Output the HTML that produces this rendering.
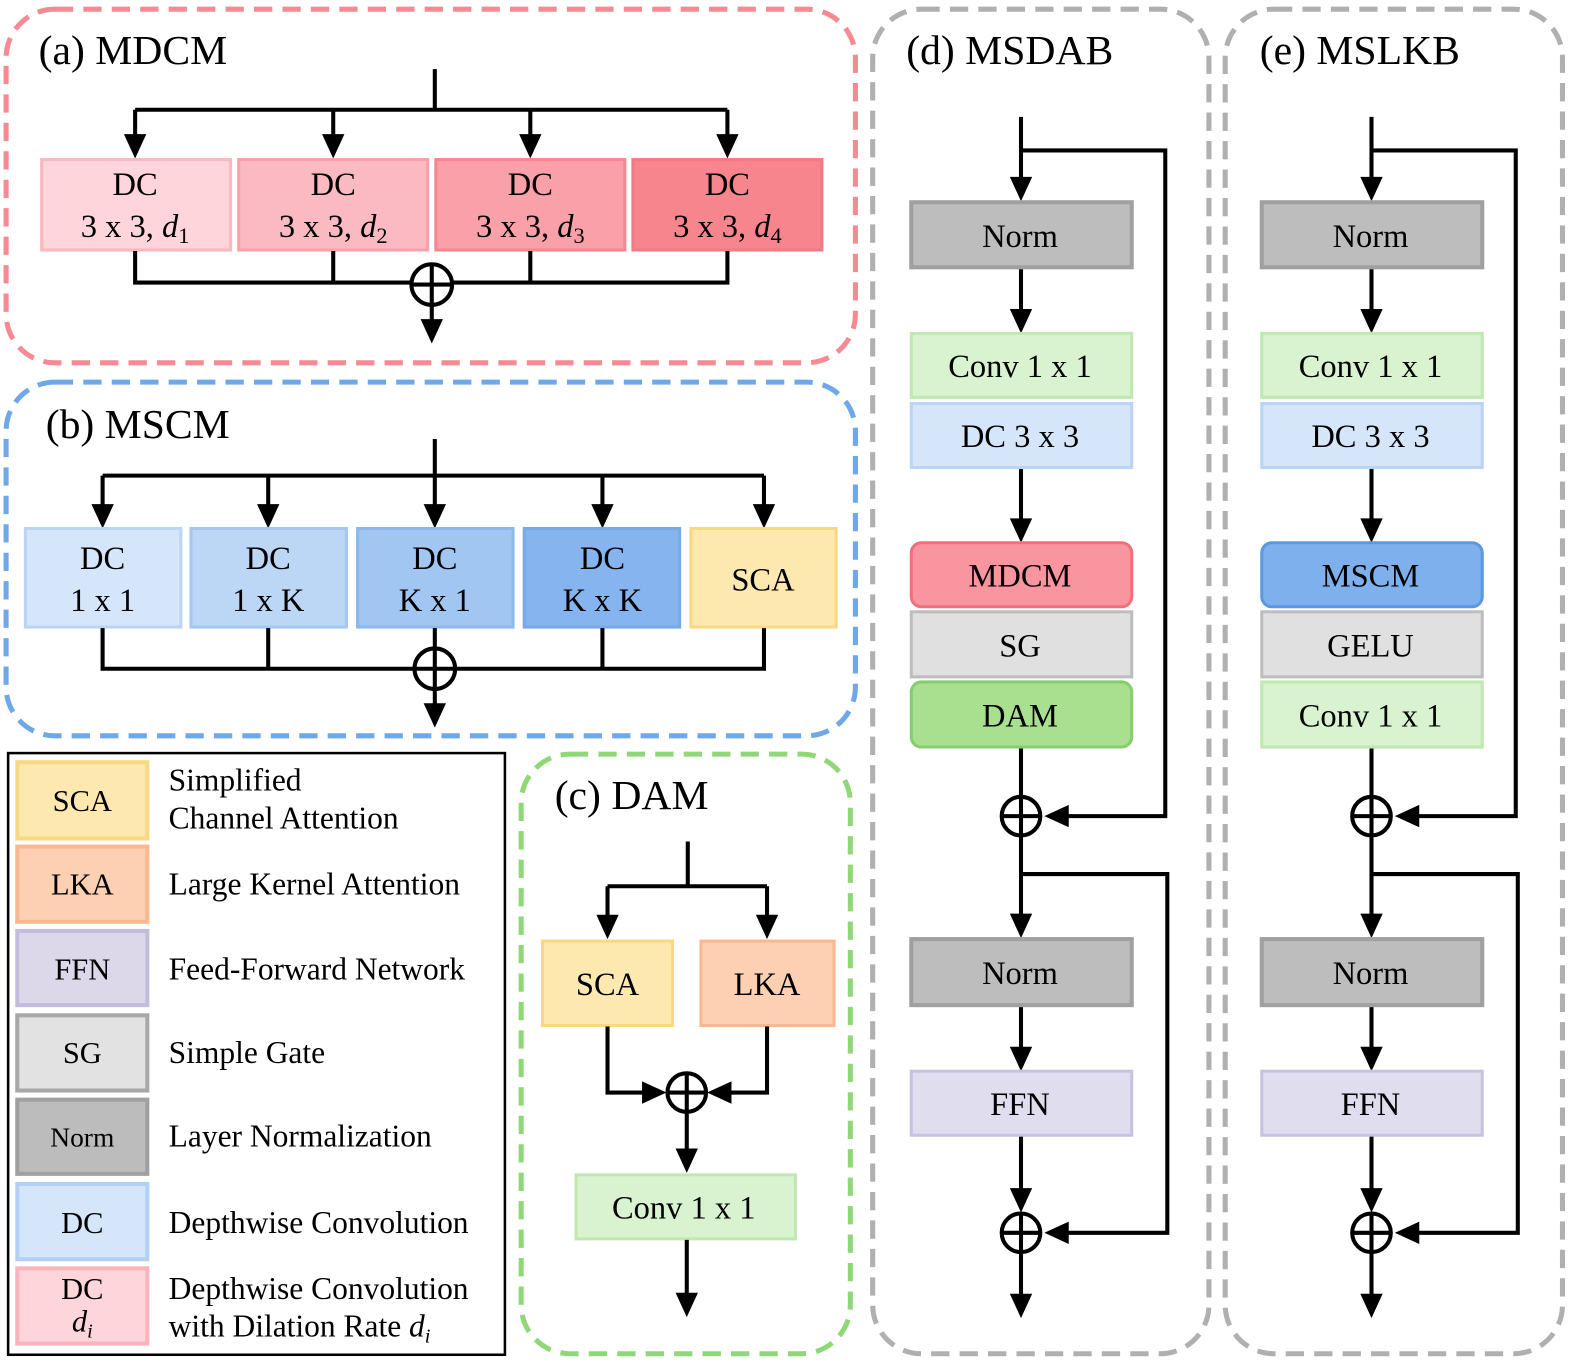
<!DOCTYPE html>
<html><head><meta charset="utf-8"><style>
html,body{margin:0;padding:0;background:#fff;}
svg{display:block;}
text{font-family:"Liberation Serif",serif;fill:#000;}
</style></head><body>
<svg width="1595" height="1370" viewBox="0 0 1570 1348" preserveAspectRatio="none" xmlns="http://www.w3.org/2000/svg">
<style>
.ln{stroke:#000;stroke-width:4;fill:none;}
.ah{fill:#000;}
.t{font-size:32px;text-anchor:middle;}
.tt{font-size:41px;}
.lg{font-size:31px;}
</style>

<!-- Containers -->
<rect x="6" y="9" width="836" height="348" rx="48" fill="none" stroke="#f58a92" stroke-width="5" stroke-dasharray="18 10"/>
<rect x="6" y="376" width="836" height="348" rx="48" fill="none" stroke="#6fa8e8" stroke-width="5" stroke-dasharray="18 10"/>
<rect x="513" y="742" width="324" height="590" rx="48" fill="none" stroke="#8fd878" stroke-width="5" stroke-dasharray="18 10"/>
<rect x="859" y="9" width="331" height="1323" rx="48" fill="none" stroke="#b0b0b0" stroke-width="5" stroke-dasharray="18 10"/>
<rect x="1206" y="9" width="332" height="1323" rx="48" fill="none" stroke="#b0b0b0" stroke-width="5" stroke-dasharray="18 10"/>
<rect x="8" y="741" width="489" height="592" fill="none" stroke="#000" stroke-width="2.5"/>

<!-- (a) MDCM -->
<text class="tt" x="38" y="63">(a) MDCM</text>
<path class="ln" d="M428 68V108M133 108H716M133 108V135M328 108V135M522 108V135M716 108V135"/>
<g class="ah"><path d="M122 132h22l-11 24z"/><path d="M317 132h22l-11 24z"/><path d="M511 132h22l-11 24z"/><path d="M705 132h22l-11 24z"/></g>
<rect x="41" y="157" width="186" height="89" fill="#fdd5da" stroke="#f9b8c0" stroke-width="3"/>
<rect x="235" y="157" width="186" height="89" fill="#fbbac2" stroke="#f8a0aa" stroke-width="3"/>
<rect x="429" y="157" width="186" height="89" fill="#f9a0a8" stroke="#f6868f" stroke-width="3"/>
<rect x="623" y="157" width="186" height="89" fill="#f7858e" stroke="#f37a84" stroke-width="3"/>
<g class="t">
<text x="133" y="192">DC</text><text x="133" y="233">3 x 3, <tspan font-style="italic">d</tspan><tspan font-size="22" dy="6">1</tspan></text>
<text x="328" y="192">DC</text><text x="328" y="233">3 x 3, <tspan font-style="italic">d</tspan><tspan font-size="22" dy="6">2</tspan></text>
<text x="522" y="192">DC</text><text x="522" y="233">3 x 3, <tspan font-style="italic">d</tspan><tspan font-size="22" dy="6">3</tspan></text>
<text x="716" y="192">DC</text><text x="716" y="233">3 x 3, <tspan font-style="italic">d</tspan><tspan font-size="22" dy="6">4</tspan></text>
</g>
<path class="ln" d="M133 247V278H716V247M328 247V278M522 247V278M425 300V318"/>
<circle cx="425" cy="280" r="20" fill="#fff" stroke="#000" stroke-width="4"/>
<path class="ln" d="M425 260V300M405 280H445"/>
<path class="ah" d="M414 314h22l-11 24z"/>

<!-- (b) MSCM -->
<text class="tt" x="45" y="431">(b) MSCM</text>
<path class="ln" d="M428 432V468M101 468H752M101 468V498M264 468V498M428 468V498M593 468V498M752 468V498"/>
<g class="ah"><path d="M90 496h22l-11 24z"/><path d="M253 496h22l-11 24z"/><path d="M417 496h22l-11 24z"/><path d="M582 496h22l-11 24z"/><path d="M741 496h22l-11 24z"/></g>
<rect x="25" y="520" width="153" height="97" fill="#d6e6fa" stroke="#b9d4f5" stroke-width="3"/>
<rect x="188" y="520" width="153" height="97" fill="#bcd6f6" stroke="#a4c6f2" stroke-width="3"/>
<rect x="352" y="520" width="153" height="97" fill="#a2c6f2" stroke="#8cb8ee" stroke-width="3"/>
<rect x="516" y="520" width="153" height="97" fill="#85b4ef" stroke="#78aaea" stroke-width="3"/>
<rect x="680" y="520" width="143" height="97" fill="#fde8b0" stroke="#f8d880" stroke-width="3"/>
<g class="t">
<text x="101" y="560">DC</text><text x="101" y="601">1 x 1</text>
<text x="264" y="560">DC</text><text x="264" y="601">1 x K</text>
<text x="428" y="560">DC</text><text x="428" y="601">K x 1</text>
<text x="593" y="560">DC</text><text x="593" y="601">K x K</text>
<text x="751" y="581">SCA</text>
</g>
<path class="ln" d="M101 618V658H752V618M264 618V658M593 618V658M428 618V640M428 678V696"/>
<circle cx="428" cy="658" r="20" fill="#fff" stroke="#000" stroke-width="4"/>
<path class="ln" d="M428 638V678M408 658H448"/>
<path class="ah" d="M417 692h22l-11 24z"/>

<!-- Legend -->
<g stroke-width="4">
<rect x="17" y="750" width="128" height="75" fill="#fde8b0" stroke="#f8d880"/>
<rect x="17" y="833" width="128" height="74" fill="#fdd0b4" stroke="#f9b890"/>
<rect x="17" y="916" width="128" height="73" fill="#dcd8ea" stroke="#c4bcdc"/>
<rect x="17" y="999" width="128" height="74" fill="#e2e2e2" stroke="#a8a8a8"/>
<rect x="17" y="1082" width="128" height="73" fill="#bcbcbc" stroke="#a0a0a0"/>
<rect x="17" y="1165" width="128" height="74" fill="#d6e6fa" stroke="#b0d0f6"/>
<rect x="17" y="1248" width="128" height="74" fill="#fdd5da" stroke="#f8b4bc"/>
</g>
<g class="t">
<text x="81" y="798" font-size="30">SCA</text>
<text x="81" y="880" font-size="30">LKA</text>
<text x="81" y="964" font-size="30">FFN</text>
<text x="81" y="1046" font-size="30">SG</text>
<text x="81" y="1128" font-size="27">Norm</text>
<text x="81" y="1213" font-size="30">DC</text>
<text x="81" y="1278" font-size="30">DC</text>
<text x="81" y="1310" font-size="30" font-style="italic">d<tspan font-size="20" dy="6">i</tspan></text>
</g>
<g class="lg">
<text x="166" y="778">Simplified</text>
<text x="166" y="815">Channel Attention</text>
<text x="166" y="880">Large Kernel Attention</text>
<text x="166" y="964">Feed-Forward Network</text>
<text x="166" y="1046">Simple Gate</text>
<text x="166" y="1128">Layer Normalization</text>
<text x="166" y="1213">Depthwise Convolution</text>
<text x="166" y="1278">Depthwise Convolution</text>
<text x="166" y="1315">with Dilation Rate <tspan font-style="italic">d</tspan><tspan font-size="20" dy="6" font-style="italic">i</tspan></text>
</g>

<!-- (c) DAM -->
<text class="tt" x="546" y="796">(c) DAM</text>
<path class="ln" d="M677 828V872M598 872H755M598 872V902M755 872V902"/>
<g class="ah"><path d="M587 900h22l-11 24z"/><path d="M744 900h22l-11 24z"/></g>
<rect x="534" y="926" width="128" height="83" fill="#fde8b0" stroke="#f8d880" stroke-width="3"/>
<rect x="690" y="926" width="131" height="83" fill="#fdd0b4" stroke="#f9b890" stroke-width="3"/>
<text class="t" x="598" y="979">SCA</text>
<text class="t" x="755" y="979">LKA</text>
<path class="ln" d="M598 1010V1075H636M755 1010V1075H716M676 1095V1132"/>
<g class="ah"><path d="M632 1064v22l24-11z"/><path d="M720 1064v22l-24-11z"/><path d="M665 1130h22l-11 24z"/></g>
<circle cx="676" cy="1075" r="19" fill="#fff" stroke="#000" stroke-width="4"/>
<path class="ln" d="M676 1056V1094M657 1075H695"/>
<rect x="567" y="1156" width="216" height="63" fill="#d9f2d0" stroke="#c0e8b0" stroke-width="3"/>
<text class="t" x="673" y="1199">Conv 1 x 1</text>
<path class="ln" d="M676 1220V1274"/>
<path class="ah" d="M665 1272h22l-11 24z"/>

<!-- (d) MSDAB & (e) MSLKB -->
<text class="tt" x="892" y="63">(d) MSDAB</text>
<text class="tt" x="1240" y="63">(e) MSLKB</text>
<g id="col">
<path class="ln" d="M1005 115V176M1005 148H1147V803H1050M1005 264V305M1005 461V511M1005 736V784M1005 822V900M1005 860H1149V1213H1050M1005 990V1031M1005 1118V1170M1005 1232V1274"/>
<g class="ah">
<path d="M994 174h22l-11 24z"/><path d="M994 304h22l-11 24z"/><path d="M994 510h22l-11 24z"/>
<path d="M1028 803l24-11v22z"/><path d="M994 899h22l-11 24z"/><path d="M994 1030h22l-11 24z"/>
<path d="M994 1169h22l-11 24z"/><path d="M1028 1213l24-11v22z"/><path d="M994 1273h22l-11 24z"/>
</g>
<circle cx="1005" cy="803" r="19" fill="#fff" stroke="#000" stroke-width="4"/>
<path class="ln" d="M1005 784V822M986 803H1024"/>
<circle cx="1005" cy="1213" r="19" fill="#fff" stroke="#000" stroke-width="4"/>
<path class="ln" d="M1005 1194V1232M986 1213H1024"/>
<rect x="897" y="199" width="217" height="64" fill="#bdbdbd" stroke="#a0a0a0" stroke-width="4"/>
<rect x="897" y="328" width="217" height="63" fill="#d9f2d0" stroke="#c0e8b0" stroke-width="3"/>
<rect x="897" y="397" width="217" height="63" fill="#d6e6fa" stroke="#b9d4f5" stroke-width="3"/>
<rect x="897" y="924" width="217" height="65" fill="#bdbdbd" stroke="#a0a0a0" stroke-width="4"/>
<rect x="897" y="1054" width="217" height="63" fill="#e0deee" stroke="#c8c2e0" stroke-width="3"/>
<g class="t">
<text x="1004" y="243">Norm</text>
<text x="1004" y="371">Conv 1 x 1</text>
<text x="1004" y="440">DC 3 x 3</text>
<text x="1004" y="968">Norm</text>
<text x="1004" y="1097">FFN</text>
</g>
</g>
<use href="#col" x="345"/>
<rect x="897" y="534" width="217" height="63" rx="10" fill="#f9959e" stroke="#f0707b" stroke-width="3"/>
<rect x="897" y="602" width="217" height="64" fill="#e0e0e0" stroke="#bdbdbd" stroke-width="3"/>
<rect x="897" y="671" width="217" height="64" rx="10" fill="#a8e090" stroke="#88cc70" stroke-width="3"/>
<text class="t" x="1004" y="577">MDCM</text>
<text class="t" x="1004" y="646">SG</text>
<text class="t" x="1004" y="715">DAM</text>
<rect x="1242" y="534" width="217" height="63" rx="10" fill="#7fb0ee" stroke="#5a98e0" stroke-width="3"/>
<rect x="1242" y="602" width="217" height="64" fill="#e0e0e0" stroke="#bdbdbd" stroke-width="3"/>
<rect x="1242" y="671" width="217" height="64" fill="#d9f2d0" stroke="#c0e8b0" stroke-width="3"/>
<text class="t" x="1349" y="577">MSCM</text>
<text class="t" x="1349" y="646">GELU</text>
<text class="t" x="1349" y="715">Conv 1 x 1</text>
</svg>
</body></html>
